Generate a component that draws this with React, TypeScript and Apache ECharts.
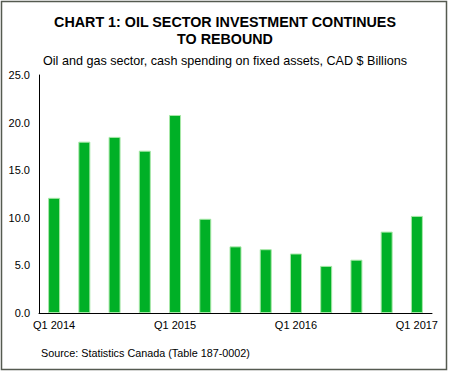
import React, { useEffect, useRef } from "react";
import * as echarts from "echarts";

const categories = [
  "Q1 2014", "Q2 2014", "Q3 2014", "Q4 2014",
  "Q1 2015", "Q2 2015", "Q3 2015", "Q4 2015",
  "Q1 2016", "Q2 2016", "Q3 2016", "Q4 2016",
  "Q1 2017",
];
const investment = [12.1, 18.0, 18.5, 17.05, 20.8, 9.9, 7.0, 6.7, 6.25, 4.95, 5.6, 8.55, 10.2];

const titleLines = ["CHART 1: OIL SECTOR INVESTMENT CONTINUES", "TO REBOUND"];
const subtitle = "Oil and gas sector, cash spending on fixed assets, CAD $ Billions";
const source = "Source: Statistics Canada (Table 187-0002)";

const FONT = "'Liberation Sans', Arial, sans-serif";

export default function App() {
  const ref = useRef<HTMLDivElement>(null);
  useEffect(() => {
    const chart = echarts.init(ref.current!, null, { renderer: "svg" });
    chart.setOption({
      animation: false,
      backgroundColor: "#ffffff",
      textStyle: { fontFamily: FONT },
      graphic: [
        {
          type: "rect",
          shape: { x: 1.5, y: 1.5, width: 445, height: 368 },
          style: { fill: "none", stroke: "#555a50", lineWidth: 1.5 },
          silent: true,
        },
        {
          type: "text",
          x: 225, y: 22,
          style: { text: titleLines[0], font: `bold 14.3px ${FONT}`, fill: "#000", align: "center", verticalAlign: "middle" },
        },
        {
          type: "text",
          x: 225, y: 39,
          style: { text: titleLines[1], font: `bold 14.3px ${FONT}`, fill: "#000", align: "center", verticalAlign: "middle" },
        },
        {
          type: "text",
          x: 225, y: 61,
          style: { text: subtitle, font: `12.6px ${FONT}`, fill: "#000", align: "center", verticalAlign: "middle" },
        },
        {
          type: "text",
          x: 41, y: 353,
          style: { text: source, font: `10.8px ${FONT}`, fill: "#000", align: "left", verticalAlign: "middle" },
        },
      ],
      grid: { left: 39, right: 18, top: 75, bottom: 62 },
      xAxis: {
        type: "category",
        data: categories,
        axisLine: { lineStyle: { color: "#000", width: 1 } },
        axisTick: { show: false },
        axisLabel: { interval: 3, color: "#000", fontSize: 11, fontFamily: FONT, margin: 6 },
      },
      yAxis: {
        type: "value",
        min: 0,
        max: 25,
        interval: 5,
        axisLine: { show: true, lineStyle: { color: "#000", width: 1 } },
        axisTick: { show: false },
        splitLine: { show: false },
        axisLabel: {
          color: "#000",
          fontSize: 11,
          fontFamily: FONT,
          margin: 9,
          formatter: (v: number) => v.toFixed(1),
        },
      },
      series: [
        {
          type: "bar",
          data: investment,
          barWidth: 12,
          itemStyle: { color: "#00b026", borderColor: "#a8e8a8", borderWidth: 1 },
        },
      ],
    });
    return () => chart.dispose();
  }, []);
  return (
    <div
      ref={ref}
      style={{ position: "absolute", left: 0, top: 0, width: 450, height: 375 }}
    />
  );
}
